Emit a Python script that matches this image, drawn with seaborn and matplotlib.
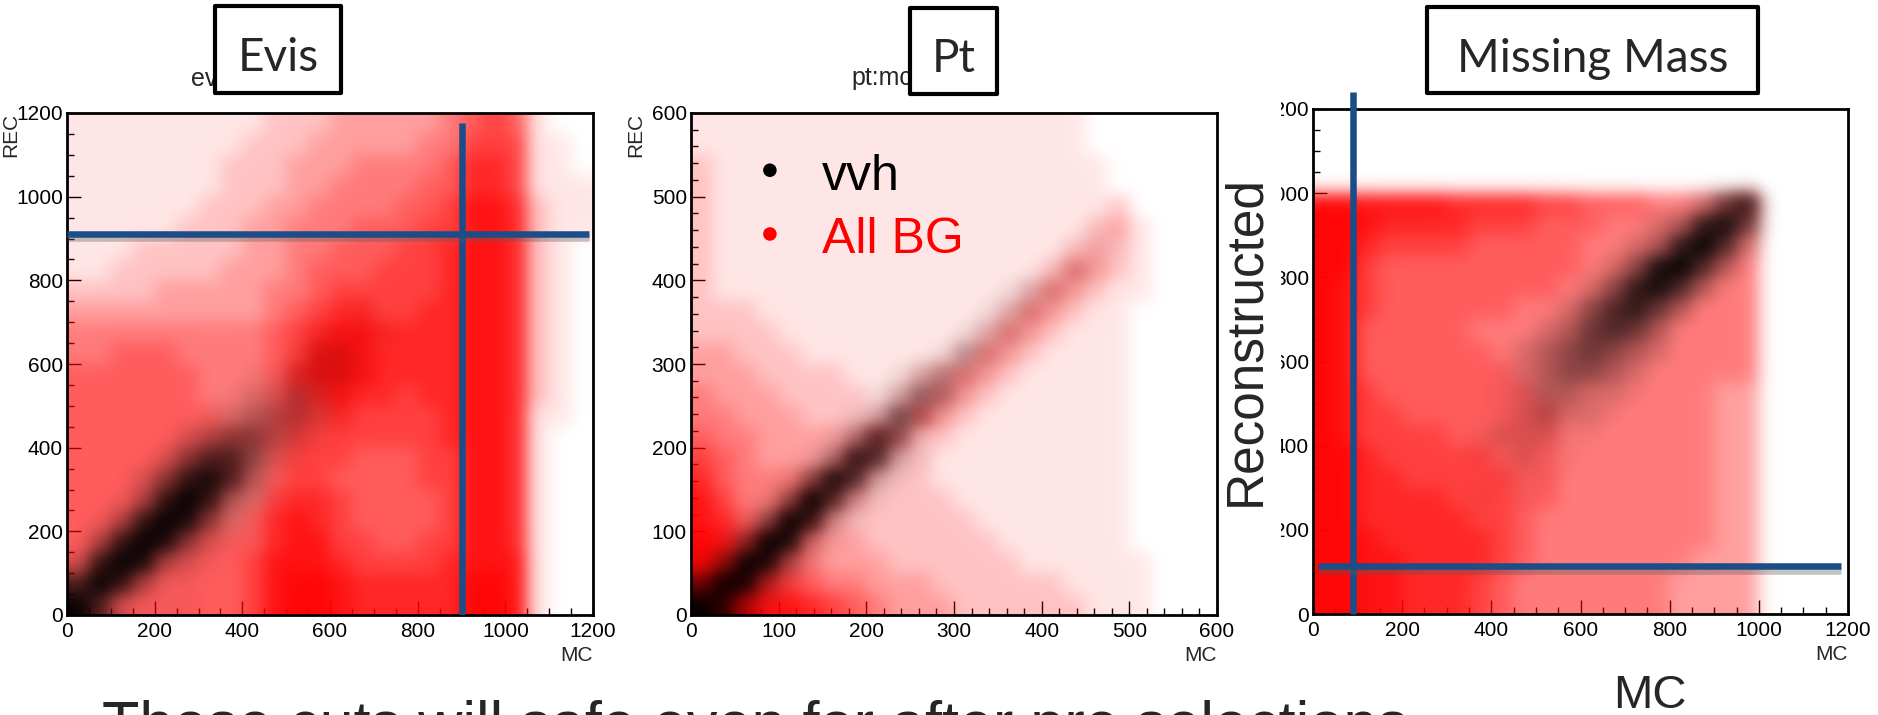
import numpy as np
import matplotlib
matplotlib.use("Agg")
import matplotlib.pyplot as plt
import matplotlib.patheffects as pe
from matplotlib.patches import Rectangle
from matplotlib.ticker import MultipleLocator
import seaborn as sns

W, H = 1878, 715

# Point densities, 24 x 24 cells each.
# 0 = empty, 9 = solid colour. Rows go from the top of the panel to the bottom.
evis_range = 1200
evis_bg = [
    "111111111222333334565100",
    "111111112223333344666110",
    "111111122233344445776110",
    "111111122233444455776111",
    "111111222334444556887211",
    "111112223344455566887211",
    "111222223344555667887210",
    "112222233345556667887210",
    "222233333445666667887210",
    "333333333456776677887210",
    "444444444567887777887210",
    "445554444568887777887210",
    "555555444578887777887210",
    "555555444567877677887210",
    "555555544566766667887110",
    "555555555566666667887100",
    "555555554566655566887100",
    "555555554566555566887100",
    "555555544677655556887100",
    "555555545787655556887100",
    "555555555788665566887100",
    "555555556888766667888100",
    "555555556899877777998100",
    "555555556899877777998100",
]
evis_vvh = [
    "000000000000000000000000",
    "000000000000000000000000",
    "000000000000000000000000",
    "000000000000000000000000",
    "000000000000000000000000",
    "000000000000000000000000",
    "000000000000000000000000",
    "000000000000000000000000",
    "000000000000000000000000",
    "000000000000010000000000",
    "000000000001111000000000",
    "000000000012210000000000",
    "000000001122210000000000",
    "000000012232100000000000",
    "000000123332100000000000",
    "000002344321000000000000",
    "000024664210000000000000",
    "000247863100000000000000",
    "001379732100000000000000",
    "013798421000000000000000",
    "037984211000000000000000",
    "279832100000000000000000",
    "697311000000000000000000",
    "962111000000000000000000",
]

pt_range = 600
pt_bg = [
    "111111111111111111000000",
    "111111111111111111000000",
    "211111111111111111100000",
    "211111111111111111100000",
    "211111111111111111120000",
    "211111111111111111231000",
    "211111111111111112321000",
    "211111111111111124321000",
    "211111111111111243211000",
    "222111111111112432110000",
    "222211111111124321110000",
    "332221111111243211110000",
    "333222211123432111110000",
    "433322221234321111110000",
    "443332222353211111110000",
    "544333335422111111110000",
    "654333354221111111110000",
    "754444542221111111110000",
    "864446432222111111110000",
    "875465322222211111110000",
    "986754332222221111110000",
    "987654333222222111111000",
    "998765443332222221111000",
    "999887654333222222111000",
]
pt_vvh = [
    "000000000000000000000000",
    "000000000000000000000000",
    "000000000000000000000000",
    "000000000000000000000000",
    "000000000000000000000000",
    "000000000000000000100000",
    "000000000000000001110000",
    "000000000000000012100000",
    "000000000000001221000000",
    "000000000000012210000000",
    "000000000000122100000000",
    "000000000001321000000000",
    "000000000123210000000000",
    "000000001243100000000000",
    "000000012531000000000000",
    "000000136410000000000000",
    "000001376210000000000000",
    "000014862100000000000000",
    "000149621000000000000000",
    "001497210000000000000000",
    "014982100000000000000000",
    "149831000000000000000000",
    "598310000000000000000000",
    "973100000000000000000000",
]

mm_range = 1200
mm_bg = [
    "000000000000000000000000",
    "000000000000000000000000",
    "000000000000000000000000",
    "000000000000000000000000",
    "998888777766555444450000",
    "998777766655544444440000",
    "997666655555444444440000",
    "996555555555444444440000",
    "986555555554444444440000",
    "986555555444444444440000",
    "985555544444444444440000",
    "985555554444444444440000",
    "985555555444444444440000",
    "986555555544444444330000",
    "986655555554444444330000",
    "986666555554444444330000",
    "997666665554444444330000",
    "997766666554444444330000",
    "997777666554444444330000",
    "997777766544444444330000",
    "998777776544444444330000",
    "998877776544444443330000",
    "998877765444444433330000",
    "998877765444444433330000",
]
mm_vvh = [
    "000000000000000000000000",
    "000000000000000000000000",
    "000000000000000000000000",
    "000000000000000000000000",
    "000000000000000002570000",
    "000000000000000237850000",
    "000000000000002379620000",
    "000000000000024896300000",
    "000000000000247863000000",
    "000000000002467530000000",
    "000000000023565300000000",
    "000000000234543200000000",
    "000000001234432000000000",
    "000000001233221000000000",
    "000000001232210000000000",
    "000000012221100000000000",
    "000000011211000000000000",
    "000000001110000000000000",
    "000000010100000000000000",
    "000000000000000000000000",
    "000000000000000000000000",
    "000000000000000000000000",
    "000000000000000000000000",
    "000000000000000000000000",
]

# cut lines: (x start, x end), (y start, y end)
evis_cut_rec = ([0, 1192], [910, 910])
evis_cut_mc = ([900, 900], [0, 1176])
mm_cut_mc = ([90, 90], [0, 1240])
mm_cut_rec = ([12, 1185], [113, 113])

legend_labels = ["vvh", "All BG"]
legend_colors = {"vvh": "black", "All BG": "red"}

# opacity of each density level
RED_ALPHA = np.array([0.0, 0.10, 0.24, 0.38, 0.52, 0.64, 0.75, 0.85, 0.93, 0.98])
BLACK_ALPHA = np.array([0.0, 0.04, 0.15, 0.30, 0.45, 0.58, 0.70, 0.82, 0.92, 0.98])
CUT_COLOR = "#1b4e88"


def px(x):
    return x / W


def py(y):
    return 1 - y / H


def density_image(rows, rgb, alpha):
    lev = np.array([[int(ch) for ch in row] for row in rows])
    img = np.zeros(lev.shape + (4,))
    img[..., :3] = rgb
    img[..., 3] = alpha[lev]
    return img


def draw_panel(ax, bg, sig, lim, major, minor):
    for rows, rgb, alpha in ((bg, (1, 0, 0), RED_ALPHA), (sig, (0, 0, 0), BLACK_ALPHA)):
        ax.imshow(density_image(rows, rgb, alpha), extent=(0, lim, 0, lim),
                  origin="upper", interpolation="gaussian", aspect="auto", zorder=1)
    ax.set_xlim(0, lim)
    ax.set_ylim(0, lim)
    for axis in (ax.xaxis, ax.yaxis):
        axis.set_major_locator(MultipleLocator(major))
        axis.set_minor_locator(MultipleLocator(minor))
    ax.tick_params(which="both", direction="in", bottom=True, left=True,
                   top=False, right=False, width=1.0, color="black",
                   labelsize=15, labelcolor="black")
    ax.tick_params(which="major", length=10)
    ax.tick_params(which="minor", length=5)
    ax.tick_params(axis="y", pad=3)
    ax.tick_params(axis="x", pad=5)
    for s in ax.spines.values():
        s.set_linewidth(2)
        s.set_color("black")
        s.set_visible(True)
    ax.grid(False)


def draw_cut(ax, line, shadow=False, clip=True):
    effects = [pe.SimpleLineShadow(offset=(0, -3), shadow_color="0.35", alpha=0.35),
               pe.Normal()] if shadow else None
    ax.plot(line[0], line[1], color=CUT_COLOR, lw=4.7, solid_capstyle="butt",
            zorder=4, clip_on=clip, path_effects=effects)


sns.set_theme(style="ticks")
plt.rcParams["font.family"] = ["Liberation Sans", "DejaVu Sans"]

fig = plt.figure(figsize=(W / 100, H / 100), dpi=100)
fig.patch.set_facecolor("white")

ax1 = fig.add_axes([px(67), 1 - 615 / H, 526 / W, 502 / H])
ax2 = fig.add_axes([px(691), 1 - 615 / H, 526 / W, 502 / H])
ax3 = fig.add_axes([px(1313), 1 - 614 / H, 535 / W, 505 / H])

draw_panel(ax1, evis_bg, evis_vvh, evis_range, 200, 50)
draw_panel(ax2, pt_bg, pt_vvh, pt_range, 100, 20)
draw_panel(ax3, mm_bg, mm_vvh, mm_range, 200, 50)

draw_cut(ax1, evis_cut_mc)
draw_cut(ax1, evis_cut_rec, shadow=True)
draw_cut(ax3, mm_cut_mc, clip=False)
draw_cut(ax3, mm_cut_rec, shadow=True)

for ax, xlab in ((ax1, -0.089), (ax2, -0.087)):
    ax.set_ylabel("REC", fontsize=15, loc="top")
    ax.yaxis.set_label_coords(xlab, 1.0)
for ax in (ax1, ax2, ax3):
    ax.set_xlabel("MC", fontsize=15, loc="right")
    ax.xaxis.set_label_coords(1.0, -0.062)

# legend inside the Pt panel
sns.scatterplot(x=[0.150, 0.150], y=[0.886, 0.759], hue=legend_labels,
                palette=legend_colors, s=95, edgecolor="none", legend=False,
                transform=ax2.transAxes, clip_on=False, zorder=6, ax=ax2)
ax2.text(0.249, 0.847, legend_labels[0], transform=ax2.transAxes, fontsize=36,
         va="baseline", color=legend_colors["vvh"], zorder=6)
ax2.text(0.249, 0.721, legend_labels[1], transform=ax2.transAxes, fontsize=36,
         va="baseline", color=legend_colors["All BG"], zorder=6)
ax2.set_xlim(0, pt_range)
ax2.set_ylim(0, pt_range)

# histogram titles peeking out behind the slide boxes
fig.text(px(217), py(86), "ev", ha="right", va="baseline", fontsize=18, zorder=5)
fig.text(px(912), py(85), "pt:mc", ha="right", va="baseline", fontsize=18, zorder=5)

boxes = [("Evis", 215, 341, 6, 93, 71),
         ("Pt", 910, 997, 8, 94, 72),
         ("Missing Mass", 1427, 1758, 7, 93, 72)]
for label, x0, x1, y0, y1, base in boxes:
    fig.add_artist(Rectangle((px(x0), py(y1)), (x1 - x0) / W, (y1 - y0) / H,
                             transform=fig.transFigure, facecolor="white",
                             edgecolor="black", lw=3, joinstyle="round", zorder=10))
    fig.text(px((x0 + x1) / 2), py(base), label, ha="center", va="baseline",
             fontsize=33, family=["Lato", "DejaVu Sans"], zorder=11)

# big axis titles of the third panel
fig.add_artist(Rectangle((px(1220), py(622)), 61 / W, 527 / H,
                         transform=fig.transFigure, facecolor="white",
                         edgecolor="none", zorder=11))
fig.text(px(1246), py(340), "Reconstructed", rotation=90, ha="center", va="center",
         fontsize=37, zorder=12)
fig.text(px(1650), py(708), "MC", ha="center", va="baseline", fontsize=34, zorder=12)

fig.text(px(102), py(744), "These cuts will safe even for after pre selections",
         ha="left", va="baseline", fontsize=44, zorder=12)

fig.savefig("out.png", dpi=100, facecolor="white")
